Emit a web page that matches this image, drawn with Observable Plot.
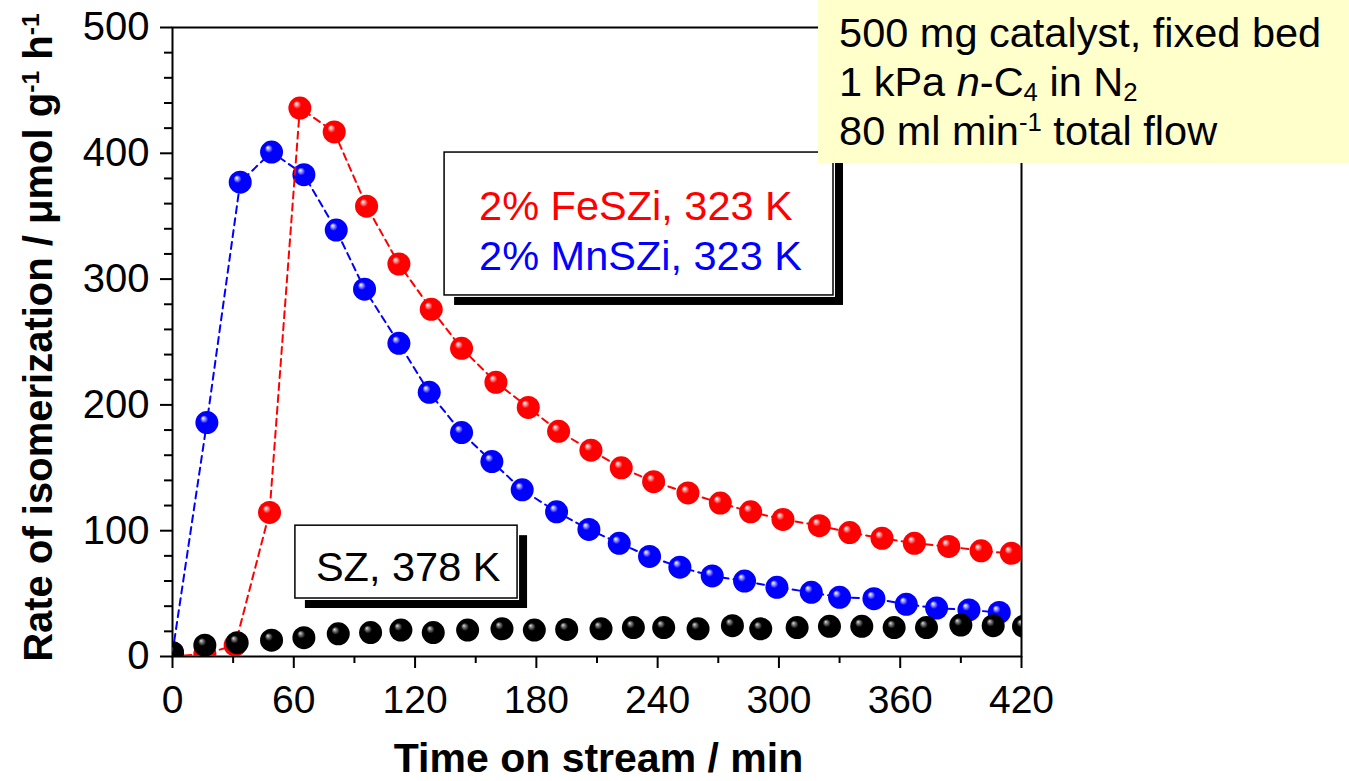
<!DOCTYPE html>
<html>
<head>
<meta charset="utf-8">
<script src="https://cdn.jsdelivr.net/npm/d3@7"></script>
<script src="https://cdn.jsdelivr.net/npm/@observablehq/plot@0.6"></script>
<style>
  html, body { margin: 0; padding: 0; background: #fff; overflow: hidden; }
  #chart { width: 1349px; height: 781px; overflow: hidden; }
</style>
</head>
<body>
<div id="chart"></div>
<script>
// ---------- data ----------
const szTime = [0, 16, 32, 49, 65, 82, 98, 113, 129, 146, 163, 179, 195, 212, 228, 243, 260, 277, 291, 309, 325, 341, 357, 373, 390, 406, 421];
const szRate = [3, 9, 11, 13, 15, 18, 19, 21, 19, 21, 22, 21, 21.5, 22, 23, 23, 22, 24.5, 22, 23, 24, 24, 23, 23, 25, 24.5, 24];

const feTime = [0, 16, 31, 48, 63, 80, 96, 112, 128, 143, 160, 176, 191, 207, 222, 238, 255, 271, 286, 302, 320, 335, 351, 367, 384, 400, 415];
const feRate = [0, 2, 9, 114.5, 436, 417, 358, 312, 276, 245, 218, 198, 179, 164, 150, 139, 130, 122, 115, 109, 104, 98.5, 94, 90, 87.5, 84, 82];

const mnTime = [0, 17, 33.5, 49, 65, 81, 95, 112, 127, 143, 158, 173, 190, 206, 221, 236, 251, 267, 283, 299, 316, 330, 347, 363, 378, 394, 409];
const mnRate = [3, 186, 377, 401, 383, 339, 292, 249, 210, 178, 155, 132.5, 115, 101, 90, 79.5, 71, 64, 60, 55, 51, 47, 46, 41.5, 38.5, 37, 35];

const xMajorTicks = [0, 60, 120, 180, 240, 300, 360, 420];
const xMinorTicks = [30, 90, 150, 210, 270, 330, 390];
const yMajorTicks = [0, 100, 200, 300, 400, 500];
const yMinorTicks = [20, 40, 60, 80, 120, 140, 160, 180, 220, 240, 260, 280, 320, 340, 360, 380, 420, 440, 460, 480];

const xTitle = "Time on stream / min";
const yTitleParts = [["Rate of isomerization / μmol g", null], ["-1", "super"], [" h", null], ["-1", "super"]];
const seriesLabels = ["2% FeSZi, 323 K", "2% MnSZi, 323 K"];
const seriesColors = ["#ff0000", "#0000ff"];
const szLabel = "SZ, 378 K";
const conditionLines = [
  [["500 mg catalyst, fixed bed", null]],
  [["1 kPa ", null], ["n", "italic"], ["-C", null], ["4", "sub"], [" in N", null], ["2", "sub"]],
  [["80 ml min", null], ["-1", "super"], [" total flow", null]]
];

// ---------- tables ----------
const sz = szTime.map((t, i) => ({t, v: szRate[i]}));
const fe = feTime.map((t, i) => ({t, v: feRate[i]}));
const mn = mnTime.map((t, i) => ({t, v: mnRate[i]}));

const FONT = "'Liberation Sans', Arial, Helvetica, sans-serif";
const ANN_SIZE = 41.5;

function ballGradient(defs, id, hi, mid, base, edge) {
  const g = defs.append("radialGradient").attr("id", id)
    .attr("cx", "0.5").attr("cy", "0.5").attr("r", "0.55")
    .attr("fx", "0.33").attr("fy", "0.3");
  g.append("stop").attr("offset", "0").attr("stop-color", hi);
  g.append("stop").attr("offset", "0.13").attr("stop-color", mid);
  g.append("stop").attr("offset", "0.32").attr("stop-color", base);
  g.append("stop").attr("offset", "0.85").attr("stop-color", base);
  g.append("stop").attr("offset", "1").attr("stop-color", edge);
}

function defsMark() {
  const g = d3.create("svg:g");
  const defs = g.append("defs");
  ballGradient(defs, "ballRed", "#ffffff", "#ff9c9c", "#ff0000", "#e40000");
  ballGradient(defs, "ballBlue", "#ffffff", "#a0a0ff", "#0000ff", "#0000e0");
  ballGradient(defs, "ballBlack", "#e0e0e0", "#7a7a7a", "#000000", "#000000");
  return g.node();
}

function richText(sel, parts) {
  for (const [s, kind] of parts) {
    const ts = sel.append("tspan").text(s);
    if (kind === "super") ts.attr("baseline-shift", "super").attr("font-size", "62%");
    else if (kind === "sub") ts.attr("baseline-shift", "-18%").attr("font-size", "62%");
    else if (kind === "italic") ts.attr("font-style", "italic");
  }
}

function annotations(index, scales) {
  const x = scales.x, y = scales.y;
  const g = d3.create("svg:g").attr("font-family", FONT).attr("text-anchor", "start");

  // legend box for FeSZi / MnSZi (with drop shadow)
  const b1 = {x1: x(134.6), x2: x(327), y1: y(400.6), y2: y(287)};
  g.append("rect").attr("x", b1.x1 + 10).attr("y", b1.y1 + 10)
    .attr("width", b1.x2 - b1.x1).attr("height", b1.y2 - b1.y1).attr("fill", "#000");
  g.append("rect").attr("x", b1.x1 - 1).attr("y", b1.y1 - 1)
    .attr("width", b1.x2 - b1.x1 + 3).attr("height", b1.y2 - b1.y1 + 3).attr("fill", "#fff");
  g.append("rect").attr("x", b1.x1).attr("y", b1.y1)
    .attr("width", b1.x2 - b1.x1).attr("height", b1.y2 - b1.y1)
    .attr("fill", "#fff").attr("stroke", "#000").attr("stroke-width", 1.5);
  const legY = [346.6, 306.8];
  seriesLabels.forEach((s, i) => {
    g.append("text").attr("x", x(151.9)).attr("y", y(legY[i])).attr("text-anchor", "start")
      .attr("font-size", ANN_SIZE).attr("fill", seriesColors[i]).text(s);
  });

  // SZ label box
  const b2 = {x1: x(60.8), x2: x(170.7), y1: y(104), y2: y(46.1)};
  g.append("rect").attr("x", b2.x1 + 10).attr("y", b2.y1 + 10)
    .attr("width", b2.x2 - b2.x1).attr("height", b2.y2 - b2.y1).attr("fill", "#000");
  g.append("rect").attr("x", b2.x1 - 1).attr("y", b2.y1 - 1)
    .attr("width", b2.x2 - b2.x1 + 3).attr("height", b2.y2 - b2.y1 + 3).attr("fill", "#fff");
  g.append("rect").attr("x", b2.x1).attr("y", b2.y1)
    .attr("width", b2.x2 - b2.x1).attr("height", b2.y2 - b2.y1)
    .attr("fill", "#fff").attr("stroke", "#000").attr("stroke-width", 1.5);
  g.append("text").attr("x", x(71.2)).attr("y", y(59.6)).attr("text-anchor", "start")
    .attr("font-size", ANN_SIZE).attr("fill", "#000").text(szLabel);

  // yellow conditions box
  g.append("rect").attr("x", x(319.6)).attr("y", y(530))
    .attr("width", x(620) - x(319.6)).attr("height", y(391.9) - y(530))
    .attr("fill", "#ffffcc");
  const condY = [484.1, 445.2, 406.2];
  conditionLines.forEach((parts, i) => {
    const t = g.append("text").attr("x", x(330)).attr("y", y(condY[i])).attr("text-anchor", "start")
      .attr("font-size", ANN_SIZE).attr("fill", "#000");
    richText(t, parts);
  });

  // axis titles
  g.append("text").attr("x", (x(0) + x(420)) / 2 + 2).attr("y", y(0) + 116)
    .attr("text-anchor", "middle").attr("font-size", 41).attr("font-weight", "bold").text(xTitle);
  const yt = g.append("text")
    .attr("transform", `translate(${x(0) - 120},${(y(0) + y(500)) / 2 - 4}) rotate(-90)`)
    .attr("text-anchor", "middle").attr("font-size", 40).attr("font-weight", "bold");
  richText(yt, yTitleParts);
  return g.node();
}

const chart = Plot.plot({
  width: 1349,
  height: 781,
  marginLeft: 172,
  marginRight: 328,
  marginTop: 27,
  marginBottom: 125,
  style: {fontFamily: FONT, fontSize: "39px", color: "#000", background: "#fff"},
  x: {domain: [0, 420]},
  y: {domain: [0, 500]},
  marks: [
    defsMark,
    Plot.axisX(xMinorTicks, {tickSize: 7, strokeWidth: 2, tickFormat: () => "", label: null}),
    Plot.axisX(xMajorTicks, {tickSize: 12, tickPadding: 17, strokeWidth: 2, label: null, fontSize: 39}),
    Plot.axisY(yMinorTicks, {tickSize: 8, strokeWidth: 2, tickFormat: () => "", label: null}),
    Plot.axisY(yMajorTicks, {tickSize: 12, tickPadding: 11, strokeWidth: 2, label: null, fontSize: 40}),
    Plot.frame({stroke: "#000", strokeWidth: 2}),
    Plot.line(mn, {x: "t", y: "v", stroke: "#0000ff", strokeWidth: 2, strokeDasharray: "7,5", clip: true}),
    Plot.dot(mn, {x: "t", y: "v", r: 11.5, fill: "url(#ballBlue)", stroke: "none", clip: true}),
    Plot.line(fe, {x: "t", y: "v", stroke: "#ff0000", strokeWidth: 2, strokeDasharray: "7,5", clip: true}),
    Plot.dot(fe, {x: "t", y: "v", r: 11.5, fill: "url(#ballRed)", stroke: "none", clip: true}),
    Plot.dot(sz, {x: "t", y: "v", r: 11.5, fill: "url(#ballBlack)", stroke: "none", clip: true}),
    annotations
  ]
});
document.getElementById("chart").appendChild(chart);
</script>
</body>
</html>
